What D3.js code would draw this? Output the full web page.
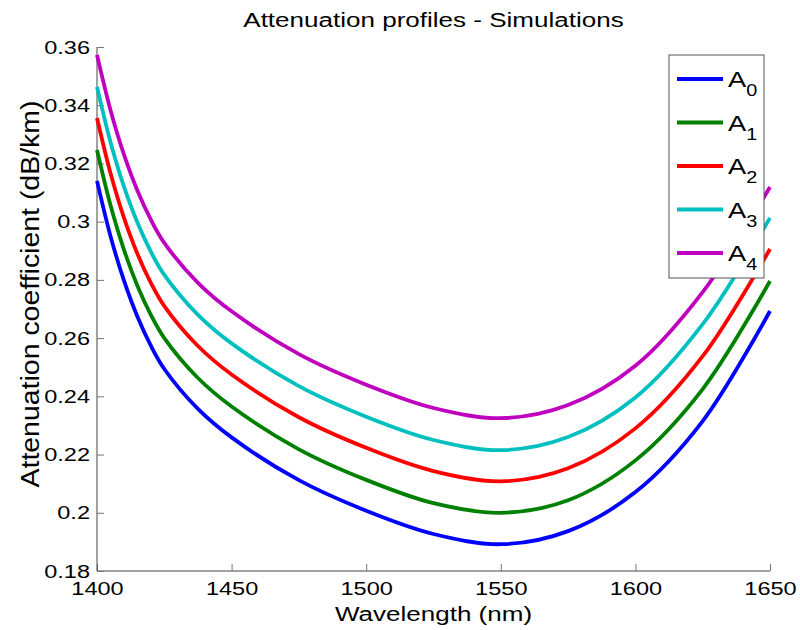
<!DOCTYPE html>
<html>
<head>
<meta charset="utf-8">
<script src="https://cdn.jsdelivr.net/npm/d3@7"></script>
<style>
  body { margin: 0; background: #fff; }
  text { font-family: "Liberation Sans", Arial, sans-serif; }
</style>
</head>
<body>
<div id="chart"></div>
<script>
const wavelengths = [1400, 1405, 1410, 1415, 1420, 1425, 1437.5, 1450, 1475, 1500, 1525, 1550, 1575, 1600, 1625, 1650]

// attenuation (dB/km) for each profile
const a0 = [0.3140, 0.2951, 0.2798, 0.2674, 0.2574, 0.2494, 0.2357, 0.2259, 0.2112, 0.2007, 0.1927, 0.1892, 0.1937, 0.2071, 0.2315, 0.2693]
const a1 = [0.3246, 0.3057, 0.2904, 0.2780, 0.2680, 0.2600, 0.2463, 0.2365, 0.2218, 0.2113, 0.2033, 0.2000, 0.2043, 0.2180, 0.2425, 0.2796]
const a2 = [0.3356, 0.3167, 0.3014, 0.2890, 0.2790, 0.2710, 0.2573, 0.2475, 0.2328, 0.2223, 0.2143, 0.2108, 0.2153, 0.2290, 0.2538, 0.2906]
const a3 = [0.3463, 0.3274, 0.3121, 0.2997, 0.2897, 0.2817, 0.2680, 0.2582, 0.2435, 0.2330, 0.2250, 0.2215, 0.2260, 0.2396, 0.2648, 0.3013]
const a4 = [0.3573, 0.3384, 0.3231, 0.3107, 0.3007, 0.2927, 0.2790, 0.2692, 0.2545, 0.2440, 0.2360, 0.2325, 0.2370, 0.2505, 0.2758, 0.3119]

const seriesNames = ['0', '1', '2', '3', '4']
const seriesValues = [a0, a1, a2, a3, a4]
const colors = ['#0000ff', '#008000', '#ff0000', '#00bfbf', '#bf00bf']

const xTicks = [1400, 1450, 1500, 1550, 1600, 1650]
const yTicks = [0.18, 0.2, 0.22, 0.24, 0.26, 0.28, 0.3, 0.32, 0.34, 0.36]

const w = 800
const h = 630
const margin = { top: 47, right: 30, bottom: 59, left: 97 }

// the figure is a bit wider than tall, glyphs look stretched sideways
const stretch = 1.24

const svg = d3.select('#chart')
    .append('svg')
    .attr('width', w)
    .attr('height', h)

const xScale = d3.scaleLinear()
    .domain([1400, 1650])
    .range([margin.left, w - margin.right])

const yScale = d3.scaleLinear()
    .domain([0.18, 0.36])
    .range([h - margin.bottom, margin.top])

// axes, ticks pointing inwards like matlab
const xAxis = d3.axisBottom(xScale)
    .tickValues(xTicks)
    .tickSize(-7)
    .tickPadding(11)
    .tickFormat(d3.format('d'))

const yAxis = d3.axisLeft(yScale)
    .tickValues(yTicks)
    .tickSize(-7)
    .tickPadding(7)
    .tickFormat((d) => String(+d.toFixed(2)))

const gx = svg.append('g')
    .attr('transform', `translate(0,${h - margin.bottom})`)
    .call(xAxis)
gx.select('.domain').attr('stroke', '#444').attr('d', `M${margin.left},0H${w - margin.right}`)

const gy = svg.append('g')
    .attr('transform', `translate(${margin.left},0)`)
    .call(yAxis)
gy.select('.domain').attr('stroke', '#444').attr('d', `M0,${h - margin.bottom}V${margin.top}`)

svg.selectAll('.tick line').attr('stroke', '#777')
svg.selectAll('.tick text')
    .attr('fill', '#000')
    .style('font-size', '19px')
    .attr('transform', `scale(${stretch},1)`)
gx.selectAll('.tick text').attr('dy', '0.71em')
gy.selectAll('.tick text').attr('x', -7 / stretch)

// curves
const line = d3.line()
    .x((d, i) => xScale(wavelengths[i]))
    .y((d) => yScale(d))
    .curve(d3.curveCatmullRom.alpha(0.5))

svg.selectAll('path.curve')
    .data(seriesValues)
    .enter()
    .append('path')
    .attr('class', 'curve')
    .attr('d', line)
    .attr('fill', 'none')
    .attr('stroke', (d, i) => colors[i])
    .attr('stroke-width', 3.8)

// title and axis labels
svg.append('text')
    .attr('transform', `translate(${(margin.left + w - margin.right) / 2},27) scale(${stretch},1)`)
    .attr('text-anchor', 'middle')
    .style('font-size', '21px')
    .text('Attenuation profiles - Simulations')

svg.append('text')
    .attr('transform', `translate(${(margin.left + w - margin.right) / 2},621) scale(${stretch},1)`)
    .attr('text-anchor', 'middle')
    .style('font-size', '21px')
    .text('Wavelength (nm)')

// rotated label: bigger glyphs squeezed to the original length
svg.append('text')
    .attr('transform', 'translate(39,294) rotate(-90)')
    .attr('text-anchor', 'middle')
    .attr('textLength', 387)
    .attr('lengthAdjust', 'spacingAndGlyphs')
    .style('font-size', '26px')
    .text('Attenuation coefficient (dB/km)')

// legend
const legend = svg.append('g')
    .attr('transform', 'translate(669,55)')

legend.append('rect')
    .attr('width', 95)
    .attr('height', 223)
    .attr('fill', '#fff')
    .attr('stroke', '#555')

const item = legend.selectAll('g.item')
    .data(seriesNames)
    .enter()
    .append('g')
    .attr('class', 'item')
    .attr('transform', (d, i) => `translate(0,${24 + i * 43.5})`)

item.append('line')
    .attr('x1', 8)
    .attr('x2', 54)
    .attr('stroke', (d, i) => colors[i])
    .attr('stroke-width', 3.8)

const label = item.append('text')
    .attr('transform', `translate(59,8) scale(${stretch},1)`)
    .style('font-size', '22px')
label.append('tspan').text('A')
label.append('tspan')
    .attr('dy', 9)
    .style('font-size', '16px')
    .text((d) => d)
</script>
</body>
</html>
